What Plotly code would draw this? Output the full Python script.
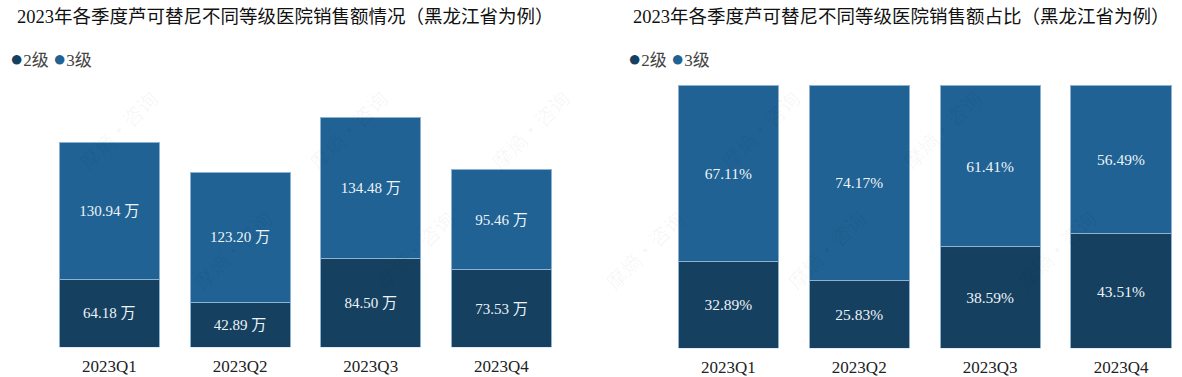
import plotly.graph_objects as go

categories = ["2023Q1", "2023Q2", "2023Q3", "2023Q4"]
level2_sales = [64.18, 42.89, 84.50, 73.53]
level3_sales = [130.94, 123.20, 134.48, 95.46]
level2_share = [32.89, 25.83, 38.59, 43.51]
level3_share = [67.11, 74.17, 61.41, 56.49]
series_names = ["2级", "3级"]
title_left = "2023年各季度芦可替尼不同等级医院销售额情况（黑龙江省为例）"
title_right = "2023年各季度芦可替尼不同等级医院销售额占比（黑龙江省为例）"

C2 = "#15405f"
C3 = "#1f6293"
EDGE = "#8fb2d0"
FONT = "Liberation Serif, Times New Roman, Noto Sans CJK SC, serif"
W, H = 1182, 377

fig = go.Figure()

def add_bars(vals, name, color, labels, xa, ya, size):
    fig.add_trace(go.Bar(
        x=categories, y=vals, name=name, width=0.765,
        marker=dict(color=color, line=dict(color=EDGE, width=1)),
        text=labels, textposition="inside", insidetextanchor="middle",
        textangle=0,
        textfont=dict(family=FONT, size=size, color="#eef3f8"),
        xaxis=xa, yaxis=ya, showlegend=False, hoverinfo="skip",
    ))

add_bars(level2_sales, series_names[0], C2, [f"{v:.2f} 万" for v in level2_sales], "x", "y", 15)
add_bars(level3_sales, series_names[1], C3, [f"{v:.2f} 万" for v in level3_sales], "x", "y", 15)
add_bars(level2_share, series_names[0], C2, [f"{v:.2f}%" for v in level2_share], "x2", "y2", 15.5)
add_bars(level3_share, series_names[1], C3, [f"{v:.2f}%" for v in level3_share], "x2", "y2", 15.5)

def px_x(p):
    return p / W

def px_y(p):
    return (H - p) / H

axis_common = dict(showgrid=False, zeroline=False, showline=False, ticks="",
                   ticklabelstandoff=7,
                   tickfont=dict(family=FONT, size=17, color="#222222"))

fig.update_layout(
    width=W, height=H,
    margin=dict(l=0, r=0, t=0, b=0),
    paper_bgcolor="white", plot_bgcolor="white",
    barmode="stack",
    xaxis=dict(domain=[px_x(44), px_x(566.8)], range=[-0.5, 3.5], anchor="y", **axis_common),
    yaxis=dict(domain=[px_y(349), px_y(80)], range=[0, 254.9], visible=False, anchor="x"),
    xaxis2=dict(domain=[px_x(662.9), 1.0], range=[-0.5, 3.5 - 4.5 / 130.9], anchor="y2", **axis_common),
    yaxis2=dict(domain=[px_y(350), px_y(80)], range=[0, 102.3], visible=False, anchor="x2"),
)

annotations = []
# titles
for txt, cx in [(title_left, 285), (title_right, 901)]:
    annotations.append(dict(text=txt, x=px_x(cx), y=px_y(17), xref="paper", yref="paper",
                            xanchor="center", yanchor="middle", showarrow=False,
                            font=dict(family=FONT, size=18.5, color="#111111")))
# legends
legend_txt = (f"<span style='color:{C2};font-size:22px'>●</span>{series_names[0]} "
              f"<span style='color:{C3};font-size:22px'>●</span>{series_names[1]}")
for lx in [8, 626]:
    annotations.append(dict(text=legend_txt, x=px_x(lx), y=px_y(59), xref="paper", yref="paper",
                            xanchor="left", yanchor="middle", showarrow=False,
                            font=dict(family=FONT, size=17, color="#444444")))
# watermark
for wy in [130, 300]:
    for wx in [70, 300, 530, 760, 990]:
        annotations.append(dict(text="摩熵·咨询", x=px_x(wx + (0 if wy == 130 else 115)), y=px_y(wy),
                                xref="paper", yref="paper", showarrow=False, textangle=-45,
                                font=dict(family="Noto Sans CJK SC", size=20, color="rgba(0,0,0,0.045)")))
fig.update_layout(annotations=annotations)

fig.write_html("out.html", config={"displayModeBar": False},
               post_script="document.body.style.margin='0';document.body.style.padding='0';")
